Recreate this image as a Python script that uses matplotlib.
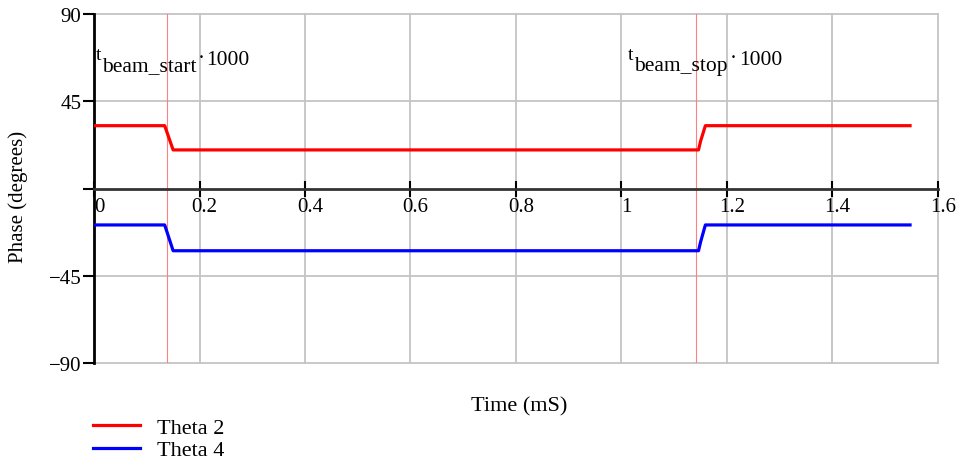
import matplotlib.pyplot as plt
from matplotlib.transforms import ScaledTranslation

plt.rcParams['font.family'] = ['Liberation Serif', 'DejaVu Serif']
plt.rcParams['axes.unicode_minus'] = True

# Phase traces (time in mS, phase in degrees)
t_theta2 = [0, 0.134, 0.150, 1.146, 1.150, 1.159, 1.547]
theta2 = [32.4, 32.4, 19.9, 19.9, 24.5, 32.4, 32.4]
t_theta4 = [0, 0.134, 0.150, 1.146, 1.150, 1.159, 1.547]
theta4 = [-18.8, -18.8, -32.1, -32.1, -27.5, -18.8, -18.8]

# Beam start / stop markers (mS)
beam_start = 0.139
beam_stop = 1.142

x_ticks = [0, 0.2, 0.4, 0.6, 0.8, 1, 1.2, 1.4, 1.6]
x_labels = ['0', '0.2', '0.4', '0.6', '0.8', '1', '1.2', '1.4', '1.6']
y_ticks = [-90, -45, 0, 45, 90]
y_labels = ['\u221290', '\u221245', '', '45', '90']

W, H = 962, 464
fig = plt.figure(figsize=(W / 100, H / 100), dpi=100)
ax = fig.add_axes([94 / W, 1 - 364 / H, 844 / W, 349 / H])

# grid
for x in x_ticks[1:]:
    ax.axvline(x, color='#c4c4c4', lw=1.3, zorder=0, clip_on=False)
for y in [-90, -45, 45, 90]:
    ax.axhline(y, color='#c4c4c4', lw=1.3, zorder=0, clip_on=False)

ax.axvline(beam_start, color='#ff8080', lw=0.8, zorder=1)
ax.axvline(beam_stop, color='#ff8080', lw=0.8, zorder=1)

ax.plot(t_theta2, theta2, color='#ff0000', lw=2.3, label='Theta 2', zorder=3)
ax.plot(t_theta4, theta4, color='#0000ff', lw=2.3, label='Theta 4', zorder=3)

ax.set_xlim(0, 1.6)
ax.set_ylim(-90, 90)

for s in ['top', 'right']:
    ax.spines[s].set_visible(False)
ax.spines['bottom'].set_position(('data', 0))
ax.spines['bottom'].set_color('#333333')
ax.spines['bottom'].set_linewidth(2)
ax.spines['left'].set_color('black')
ax.spines['left'].set_linewidth(2)

ax.set_xticks(x_ticks)
ax.set_xticklabels(x_labels, fontsize=15)
ax.set_yticks(y_ticks)
ax.set_yticklabels(y_labels, fontsize=15)
ax.tick_params(axis='x', direction='inout', length=12, width=1.5, pad=0)
ax.tick_params(axis='y', direction='out', length=8, width=1.5, pad=1)

# nudge x tick labels a little to the right of their ticks
shift = ScaledTranslation(5 / 100, 0, fig.dpi_scale_trans)
for lbl in ax.get_xticklabels():
    lbl.set_transform(lbl.get_transform() + shift)


def px_text(x, y, s, size):
    fig.text(x / W, 1 - y / H, s, fontsize=size, ha='left', va='baseline')


# t_beam_start*1000 and t_beam_stop*1000 labels
px_text(96, 60, 't', 14)
px_text(102, 71, 'beam_start', 15.5)
px_text(198, 64, '\u00b7', 15)
px_text(206, 65, '1000', 15.5)

px_text(628, 60, 't', 14)
px_text(634, 71, 'beam_stop', 15.5)
px_text(730, 64, '\u00b7', 15)
px_text(739, 65, '1000', 15.5)

fig.text(18 / W, 1 - 197 / H, 'Phase (degrees)', rotation=90,
         fontsize=15, va='center', ha='center')
fig.text(519 / W, 1 - 407 / H, 'Time (mS)', fontsize=16,
         va='center', ha='center')

ax.legend(loc='upper left', bbox_to_anchor=(93 / W, 1 - 418 / H),
          bbox_transform=fig.transFigure, frameon=False, fontsize=16,
          borderpad=0, borderaxespad=0, handlelength=2.1,
          handletextpad=0.8, labelspacing=0.1)

fig.savefig('out.png', dpi=100)
